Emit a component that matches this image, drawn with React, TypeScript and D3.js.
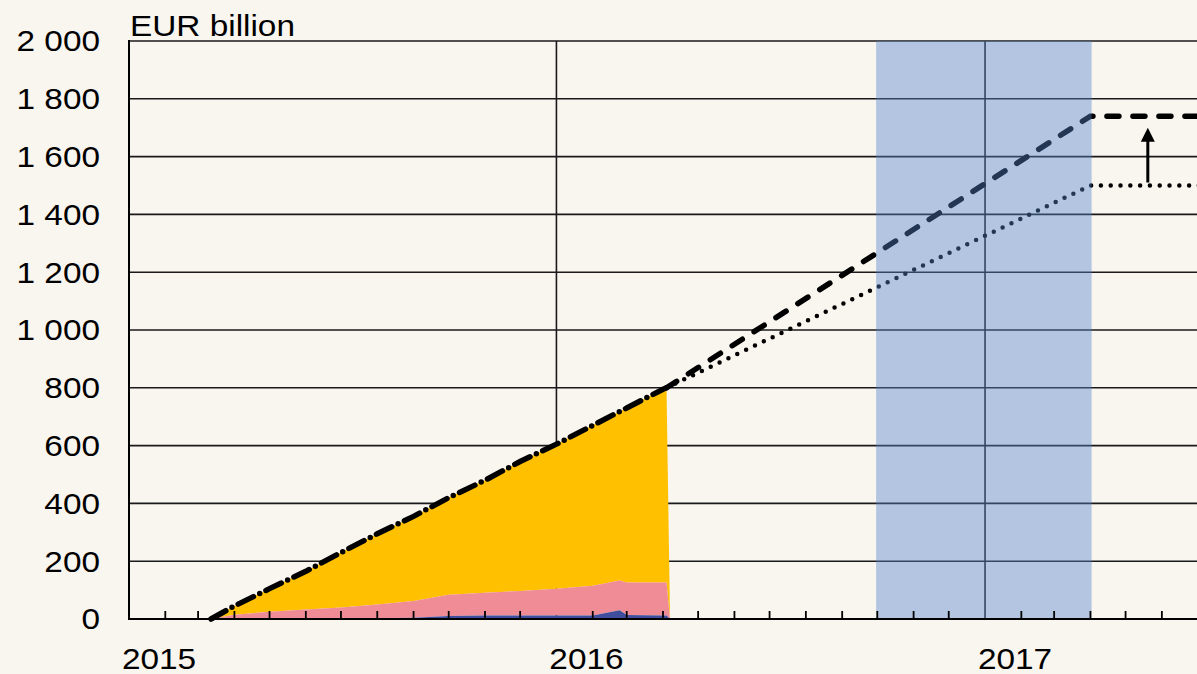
import React, { useEffect, useRef } from 'react';
import * as d3 from 'd3';

const W = 1197;
const H = 674;

// stacked purchase programmes (EUR bn)
const dates = ['2015-03-12', '2015-04-01', '2015-05-01', '2015-06-01', '2015-07-01', '2015-08-01',
  '2015-09-01', '2015-10-01', '2015-11-01', '2015-12-01', '2016-01-01', '2016-02-01', '2016-02-24',
  '2016-03-01', '2016-04-01', '2016-04-04', '2016-04-07'];
const abspp = [0, 0, 0, 2, 3, 3, 4, 10, 12, 12, 12, 12, 30, 14, 12, 12, 0];
const cbpp3 = [0, 15, 25, 31, 37, 47, 58, 74, 79, 85, 93, 103, 103, 112, 114, 114, 0];
const pspp = [0, 30, 80, 132, 190, 245, 293, 336, 389, 448, 500, 555, 585, 604, 669, 674, 0];

// projected paths
const projDates = ['2016-04-04', '2017-04-01', '2017-07-15'];
const projHigh = [800, 1740, 1740];
const projLow = [800, 1500, 1500];

const yTicks = [0, 200, 400, 600, 800, 1000, 1200, 1400, 1600, 1800, 2000];
const years = ['2015', '2016', '2017'];
const shade = ['2016-09-30', '2017-04-02'];
const arrowDate = '2017-05-20';

const FONT = 'Arial, "Liberation Sans", sans-serif';
const FS = 29;
const SX = 1.15;

export default function App() {
  const ref = useRef<SVGSVGElement>(null);

  useEffect(() => {
    const svg = d3.select(ref.current);
    svg.selectAll('*').remove();

    const left = 129, right = 1197, top = 41, bottom = 619;
    const parse = d3.timeParse('%Y-%m-%d');

    const x = d3.scaleTime()
      .domain([new Date(2015, 0, 1), new Date(2017, 6, 1)])
      .range([left, right]);
    const y = d3.scaleLinear().domain([0, 2000]).range([bottom, top]);

    svg.append('rect').attr('width', W).attr('height', H).attr('fill', '#f9f5ef');

    // gridlines
    svg.selectAll('.hgrid')
      .data(yTicks.slice(1))
      .enter()
      .append('line')
      .attr('x1', left).attr('x2', right)
      .attr('y1', d => y(d)).attr('y2', d => y(d))
      .attr('stroke', '#1a1a1a')
      .attr('stroke-width', 1.6);

    svg.selectAll('.vgrid')
      .data(years.slice(1))
      .enter()
      .append('line')
      .attr('x1', d => x(new Date(+d, 0, 1))).attr('x2', d => x(new Date(+d, 0, 1)))
      .attr('y1', top).attr('y2', bottom)
      .attr('stroke', '#1a1a1a')
      .attr('stroke-width', 1.6);

    // stacked areas
    const rows = dates.map((d, i) => ({ date: parse(d)!, abspp: abspp[i], cbpp3: cbpp3[i], pspp: pspp[i] }));
    const stack = d3.stack<any>().keys(['abspp', 'cbpp3', 'pspp']);
    const series = stack(rows);
    const colors = ['#3f4f9e', '#f08c95', '#ffc000'];

    const area = d3.area<any>()
      .x(d => x(d.data.date))
      .y0(d => y(d[0]))
      .y1(d => y(d[1]));

    svg.selectAll('.layer')
      .data(series.slice().reverse())
      .enter()
      .append('path')
      .attr('d', d => area(d as any))
      .attr('fill', (d, i) => colors[2 - i]);

    // actual cumulative (dash-dot)
    const totals = series[2].slice(0, dates.length - 1);
    const line = d3.line<any>().x(d => x(d.data.date)).y(d => y(d[1]));
    svg.append('path')
      .attr('d', line(totals))
      .attr('fill', 'none')
      .attr('stroke', '#000')
      .attr('stroke-width', 5.5)
      .attr('stroke-linecap', 'round')
      .attr('stroke-dasharray', '17 7 0 7');

    // projections
    const pline = d3.line<number>()
      .x((d, i) => x(parse(projDates[i])!))
      .y(d => y(d));

    svg.append('path')
      .attr('d', pline(projHigh))
      .attr('fill', 'none')
      .attr('stroke', '#000')
      .attr('stroke-width', 5.5)
      .attr('stroke-linecap', 'round')
      .attr('stroke-dasharray', '12 14');

    svg.append('path')
      .attr('d', pline(projLow))
      .attr('fill', 'none')
      .attr('stroke', '#000')
      .attr('stroke-width', 4.5)
      .attr('stroke-linecap', 'round')
      .attr('stroke-dasharray', '0 9.8');

    // arrow
    const ax = x(parse(arrowDate)!);
    const tip = y(1700);
    svg.append('line')
      .attr('x1', ax).attr('x2', ax)
      .attr('y1', y(1500) - 3).attr('y2', tip + 10)
      .attr('stroke', '#000')
      .attr('stroke-width', 3);
    svg.append('path')
      .attr('d', `M${ax},${tip} L${ax - 7},${tip + 14} L${ax + 7},${tip + 14} Z`)
      .attr('fill', '#000');

    // shaded period (translucent overlay)
    svg.append('rect')
      .attr('x', x(parse(shade[0])!))
      .attr('width', x(parse(shade[1])!) - x(parse(shade[0])!))
      .attr('y', top)
      .attr('height', bottom - top)
      .attr('fill', '#5383ca')
      .attr('fill-opacity', 0.42);

    // axes
    svg.append('line')
      .attr('x1', left).attr('x2', left).attr('y1', top - 1).attr('y2', bottom + 1)
      .attr('stroke', '#000').attr('stroke-width', 2);
    svg.append('line')
      .attr('x1', left - 1).attr('x2', right).attr('y1', bottom).attr('y2', bottom)
      .attr('stroke', '#000').attr('stroke-width', 2.2);

    const months = d3.timeMonth.range(new Date(2015, 1, 1), new Date(2017, 6, 1))
      .filter(d => d.getMonth() !== 0);
    svg.selectAll('.mtick')
      .data(months)
      .enter()
      .append('line')
      .attr('x1', d => x(d)).attr('x2', d => x(d))
      .attr('y1', bottom - 8).attr('y2', bottom)
      .attr('stroke', '#000')
      .attr('stroke-width', 1.8);

    // labels
    const fmt = d3.formatLocale({ decimal: '.', thousands: ' ', grouping: [3], currency: ['', ''] }).format(',');

    svg.selectAll('.ylab')
      .data(yTicks)
      .enter()
      .append('text')
      .attr('transform', d => `translate(100,${y(d) + 10.4}) scale(${SX},1)`)
      .attr('text-anchor', 'end')
      .attr('font-family', FONT)
      .attr('font-size', FS)
      .attr('fill', '#000')
      .text(d => fmt(d));

    svg.selectAll('.xlab')
      .data(years)
      .enter()
      .append('text')
      .attr('transform', d => `translate(${x(new Date(+d, 0, 1)) + 30},669) scale(${SX},1)`)
      .attr('text-anchor', 'middle')
      .attr('font-family', FONT)
      .attr('font-size', FS)
      .attr('fill', '#000')
      .text(d => d);

    svg.append('text')
      .attr('transform', `translate(130,36) scale(${SX},1)`)
      .attr('font-family', FONT)
      .attr('font-size', FS)
      .attr('fill', '#000')
      .text('EUR billion');
  }, []);

  return (
    <svg ref={ref} width={W} height={H} style={{ position: 'absolute', left: 0, top: 0 }} />
  );
}
